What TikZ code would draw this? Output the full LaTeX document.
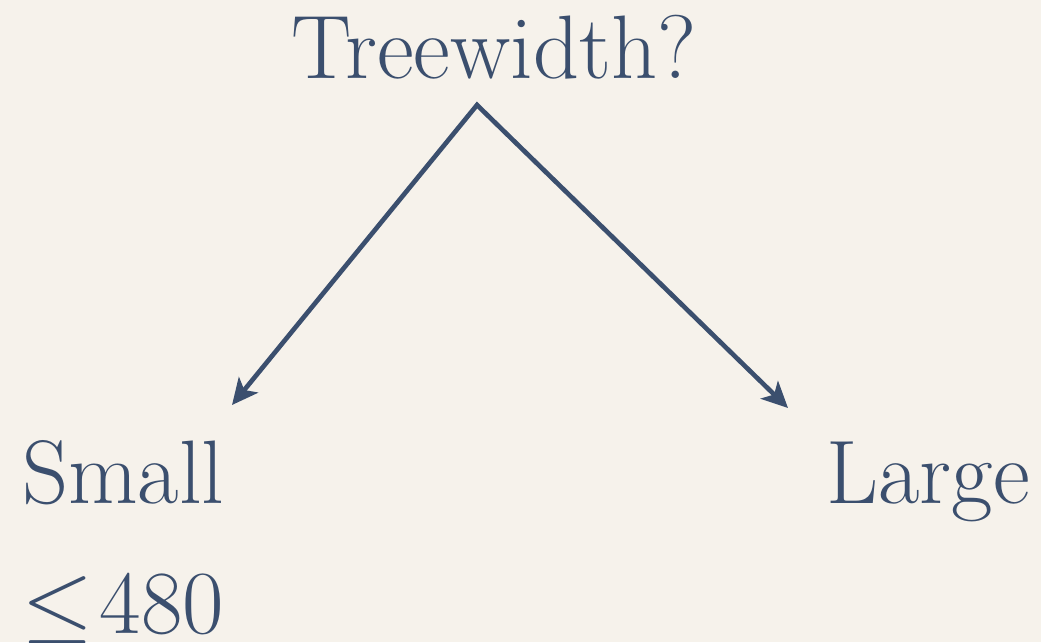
\documentclass[tikz,border=0pt]{standalone}
\usepackage{fontspec}
\usepackage{unicode-math}
\setmainfont{Latin Modern Roman}
\setmathfont{Latin Modern Math}
\usepackage{xcolor}
\usetikzlibrary{arrows.meta, positioning}
\definecolor{inkblue}{HTML}{3B4F6E}
\definecolor{paper}{HTML}{F6F2EB}

\begin{document}
\begin{tikzpicture}[
    x = 0.03cm, y = -0.03cm,
    word/.style = {
      inner sep = 0pt, text = inkblue,
      font = \fontsize{77}{82}\selectfont
    },
    arr/.style  = {{Stealth[length=0.78cm, width=0.74cm, inset=0.2cm]}-{Stealth[length=0.78cm, width=0.74cm, inset=0.2cm]},
                   line width = 0.14cm, inkblue, line join = miter}
  ]
    % ── Canvas ───────────────────────────────────────────────────────────────
    \fill[paper] (0,0) rectangle (1041,642);
    \useasboundingbox (0,0) rectangle (1041,642);

    % ── Nodes ────────────────────────────────────────────────────────────────
    \node[word, anchor = base]      (tree)  at (494,78)  {Treewidth?};
    \node[word, anchor = base west] (small) at (22,503)  {Small};
    \node[word, anchor = base east] (large) at (1030,503) {Large};
    \node[word, anchor = base west] (bound) at (22,633)  {$\leq$\hspace{0.08em}480};

    \coordinate (apex)     at (477,105);
    \coordinate (smalltip) at (232,405);
    \coordinate (largetip) at (788,408);

    % ── Arrows ───────────────────────────────────────────────────────────────
    \draw[arr] (smalltip) -- (apex) -- (largetip);
  \end{tikzpicture}
\end{document}
